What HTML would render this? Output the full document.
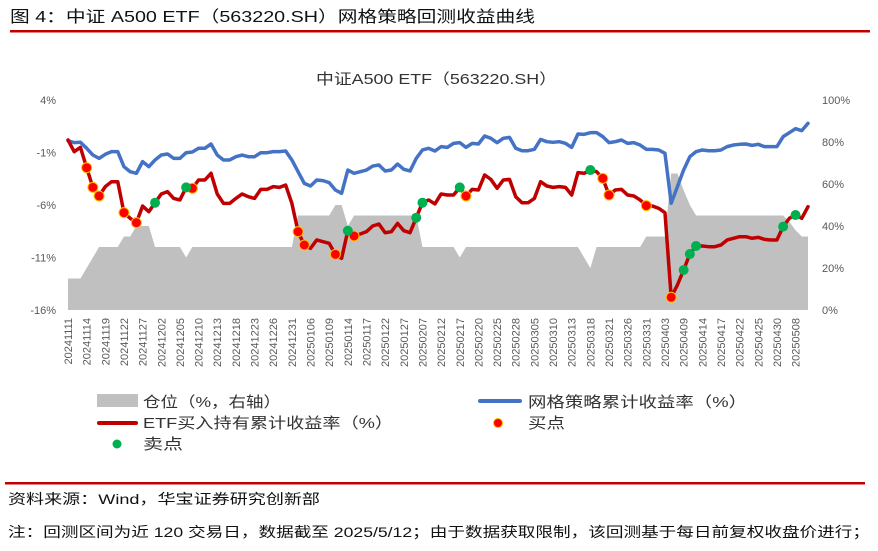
<!DOCTYPE html>
<html><head><meta charset="utf-8">
<style>
body{margin:0;background:#fff;width:878px;height:546px;overflow:hidden;font-family:"Liberation Sans","Noto Sans CJK SC",sans-serif;}
svg text{font-family:"Liberation Sans","Noto Sans CJK SC",sans-serif;}
</style></head>
<body>
<svg id="chart" width="878" height="546" viewBox="0 0 878 546">
  <text x="10" y="22" font-size="16" fill="#111" textLength="525" lengthAdjust="spacingAndGlyphs">图 4：中证 A500 ETF（563220.SH）网格策略回测收益曲线</text>
  <rect x="10" y="30" width="860" height="2.5" fill="#c00000"/>
  <text x="316" y="84" font-size="15" fill="#333" textLength="241" lengthAdjust="spacingAndGlyphs">中证A500 ETF（563220.SH）</text>
  <g id="plot"></g>
  <g id="legend">
    <rect x="97" y="394" width="41" height="13" fill="#c0c0c0"/>
    <text x="143" y="407" font-size="15" fill="#333" textLength="138" lengthAdjust="spacingAndGlyphs">仓位（%，右轴）</text>
    <rect x="478" y="399" width="44" height="4" rx="2" fill="#4472c4"/>
    <text x="528" y="407" font-size="15" fill="#333" textLength="219" lengthAdjust="spacingAndGlyphs">网格策略累计收益率（%）</text>
    <rect x="97" y="421" width="41" height="4" rx="2" fill="#c00000"/>
    <text x="143" y="428" font-size="15" fill="#333" textLength="250" lengthAdjust="spacingAndGlyphs">ETF买入持有累计收益率（%）</text>
    <circle cx="498" cy="423" r="4.5" fill="#ff0000" stroke="#ffc000" stroke-width="1"/>
    <text x="528" y="428" font-size="15" fill="#333" textLength="37" lengthAdjust="spacingAndGlyphs">买点</text>
    <circle cx="117" cy="444" r="4.5" fill="#00b050"/>
    <text x="143" y="449" font-size="15" fill="#333" textLength="40" lengthAdjust="spacingAndGlyphs">卖点</text>
  </g>
  <rect x="5" y="482" width="860" height="2.5" fill="#c00000"/>
  <text x="8" y="504" font-size="14" fill="#111" textLength="312" lengthAdjust="spacingAndGlyphs">资料来源：Wind，华宝证券研究创新部</text>
  <text x="8" y="537" font-size="14" fill="#111" textLength="862" lengthAdjust="spacingAndGlyphs">注：回测区间为近 120 交易日，数据截至 2025/5/12；由于数据获取限制，该回测基于每日前复权收盘价进行；</text>
</svg>
<script>
const xLabels=["20241111","20241114","20241119","20241122","20241127","20241202","20241205","20241210","20241213","20241218","20241223","20241226","20241231","20250106","20250109","20250114","20250117","20250122","20250127","20250207","20250212","20250217","20250220","20250225","20250228","20250305","20250310","20250313","20250318","20250321","20250326","20250331","20250403","20250409","20250414","20250417","20250422","20250425","20250430","20250508"];
const leftTicks=[4,-1,-6,-11,-16];
const rightTicks=[100,80,60,40,20,0];
const gridReturn=[0.13,-0.06,-0.03,-0.6,-1.24,-1.56,-1.17,-0.92,-0.92,-2.35,-2.83,-2.98,-1.87,-2.35,-1.71,-1.24,-1.14,-1.56,-1.56,-1.02,-0.95,-0.6,-0.6,-0.19,-1.24,-1.71,-1.71,-1.4,-1.24,-1.4,-1.4,-1.02,-1.02,-0.92,-0.92,-0.86,-1.71,-2.83,-3.94,-4.19,-3.62,-3.68,-3.87,-4.57,-4.89,-2.67,-2.98,-2.83,-2.67,-2.29,-2.19,-2.76,-2.67,-2.1,-2.6,-2.76,-1.56,-0.76,-0.6,-0.86,-0.44,-0.51,-0.13,-0.06,-0.51,-0.13,-0.19,0.57,0.35,-0.06,0.35,0.44,-0.6,-0.83,-0.83,-0.7,0.25,0.03,-0.03,0.03,-0.13,-0.51,0.76,0.73,0.89,0.89,0.51,-0.06,0.03,0.19,-0.13,-0.06,-0.29,-0.7,-0.7,-0.76,-1.08,-5.84,-4.25,-2.67,-1.4,-0.92,-0.76,-0.83,-0.83,-0.76,-0.44,-0.29,-0.22,-0.19,-0.32,-0.22,-0.44,-0.44,-0.44,0.51,0.89,1.27,1.08,1.78];
const etfReturn=[0.19,-0.92,-0.51,-2.45,-4.32,-5.14,-4.25,-3.78,-3.78,-6.73,-7.27,-7.68,-6.1,-6.64,-5.78,-4.95,-4.73,-5.37,-5.52,-4.32,-4.41,-3.62,-3.62,-2.98,-4.95,-5.84,-5.84,-5.37,-4.95,-5.21,-5.37,-4.51,-4.51,-4.25,-4.32,-4.1,-5.84,-8.54,-9.81,-10.13,-9.33,-9.49,-9.65,-10.7,-11.08,-8.45,-8.95,-8.76,-8.54,-8.0,-7.81,-8.64,-8.54,-7.75,-8.45,-8.64,-7.21,-5.78,-5.52,-5.9,-4.95,-5.05,-5.05,-4.32,-5.14,-4.51,-4.57,-3.14,-3.56,-4.41,-3.62,-3.56,-5.21,-5.78,-5.78,-5.37,-3.78,-4.19,-4.32,-4.25,-4.32,-5.05,-2.92,-2.98,-2.67,-2.83,-3.46,-5.05,-4.57,-4.51,-5.05,-5.14,-5.52,-6.06,-6.1,-6.32,-6.73,-14.79,-13.62,-12.19,-10.67,-9.9,-9.9,-9.97,-9.97,-9.81,-9.33,-9.17,-9.02,-9.02,-9.17,-9.08,-9.27,-9.33,-9.33,-8.06,-7.27,-6.95,-7.27,-6.16];
const position=[15,15,15,20,25,30,30,30,30,35,35,40,40,40,30,30,30,30,30,25,30,30,30,30,30,30,30,30,30,30,30,30,30,30,30,30,30,45,45,45,45,45,45,50,50,40,45,45,45,45,45,45,45,45,45,45,45,30,30,30,30,30,30,25,30,30,30,30,30,30,30,30,30,30,30,30,30,30,30,30,30,30,30,25,20,30,30,30,30,30,30,30,30,35,35,35,35,65,65,57,50,45,45,45,45,45,45,45,45,45,45,45,45,45,45,45,42,38,35,35];
const buyIdx=[3,4,5,9,11,20,37,38,43,46,64,86,87,93,97];
const sellIdx=[14,19,45,56,57,63,84,99,100,101,115,117];

const NS="http://www.w3.org/2000/svg";
const plot=document.getElementById('plot');
const X0=68,X1=808,YT=100,YB=310;
const n=gridReturn.length;
function xScale(i){return X0+(X1-X0)*i/(n-1);}
function yLeft(v){return YT+(4-v)*(YB-YT)/20;}
function yRight(v){return YB-v*(YB-YT)/100;}
function mk(tag,attrs){const e=document.createElementNS(NS,tag);for(const k in attrs)e.setAttribute(k,attrs[k]);return e;}

let d='M'+xScale(0)+','+yRight(0);
position.forEach((v,i)=>{d+=' L'+xScale(i).toFixed(2)+','+yRight(v).toFixed(2);});
d+=' L'+xScale(n-1)+','+yRight(0)+' Z';
const area=mk('path',{d:d,fill:'#c0c0c0'});


plot.appendChild(area);

function line(arr,color,name){
  const p=arr.map((v,i)=>(i?'L':'M')+xScale(i).toFixed(2)+','+yLeft(v).toFixed(2)).join(' ');
  const el=mk('path',{d:p,fill:'none',stroke:color,'stroke-width':3.5,'stroke-linejoin':'round','stroke-linecap':'round'});
  
  
  plot.appendChild(el);
}
line(gridReturn,'#4472c4','grid-strategy-line');
line(etfReturn,'#c00000','etf-hold-line');

buyIdx.forEach(i=>{
  const c=mk('circle',{cx:xScale(i),cy:yLeft(etfReturn[i]),r:5,fill:'#ff0000',stroke:'#ffc000','stroke-width':1});
  
  
  plot.appendChild(c);
});
sellIdx.forEach(i=>{
  const c=mk('circle',{cx:xScale(i),cy:yLeft(etfReturn[i]),r:5,fill:'#00b050'});
  
  
  plot.appendChild(c);
});

leftTicks.forEach(v=>{
  const t=mk('text',{x:56,y:yLeft(v)+4,'font-size':11,fill:'#595959','text-anchor':'end'});
  t.textContent=v+'%';
  
  
  plot.appendChild(t);
});
rightTicks.forEach(v=>{
  const t=mk('text',{x:822,y:yRight(v)+4,'font-size':11,fill:'#595959'});
  t.textContent=v+'%';
  
  
  plot.appendChild(t);
});
xLabels.forEach((s,k)=>{
  const x=xScale(k*3)+4;
  const t=mk('text',{x:x,y:318,'font-size':11,fill:'#595959','text-anchor':'end',transform:'rotate(-90 '+x+' 318)'});
  t.textContent=s;
  
  
  plot.appendChild(t);
});
</script>
</body></html>
